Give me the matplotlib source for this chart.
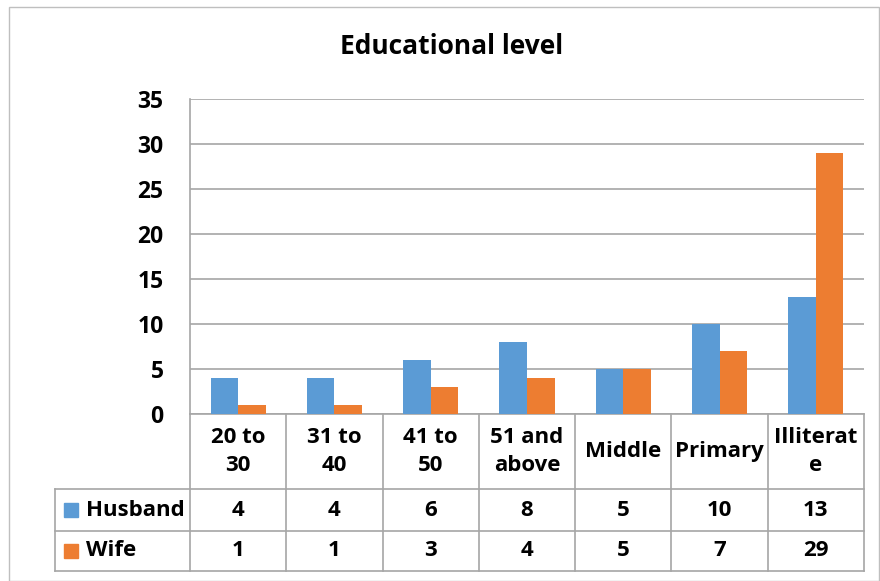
import numpy as np
import matplotlib
matplotlib.use('Agg')
import matplotlib.pyplot as plt
from matplotlib import transforms
from matplotlib.patches import Rectangle

plt.rcParams['font.family'] = ['Open Sans', 'DejaVu Sans']
plt.rcParams['font.weight'] = 'bold'

categories = ['20 to\n30', '31 to\n40', '41 to\n50', '51 and\nabove', 'Middle', 'Primary', 'Illiterat\ne']
series_names = ['Husband', 'Wife']
husband = [4, 4, 6, 8, 5, 10, 13]
wife = [1, 1, 3, 4, 5, 7, 29]
colors = ['#5B9BD5', '#ED7D31']

W, H = 880, 581
grid_col = '#A6A6A6'
fs = 16.5
fs_tab = 16


def fy(py):
    # pixel row -> figure fraction
    return 1 - py / H


fig = plt.figure(figsize=(W / 100, H / 100), dpi=100)
fig.patches.append(Rectangle((9 / W, 0), (W - 10) / W, fy(7), transform=fig.transFigure,
                             fill=False, edgecolor='#BFBFBF', lw=1))

ax = fig.add_axes([190 / W, fy(414), (864 - 190) / W, (414 - 99) / H])
x = np.arange(len(categories))
bw = 0.287
ax.bar(x - bw / 2, husband, bw, color=colors[0], zorder=3)
ax.bar(x + bw / 2, wife, bw, color=colors[1], zorder=3)

ax.set_xlim(-0.5, len(categories) - 0.5)
ax.set_ylim(0, 35)
ax.set_yticks(np.arange(0, 36, 5))
ax.set_xticks([])
ax.tick_params(axis='y', length=0, pad=19, labelsize=fs)
for lab in ax.get_yticklabels():
    lab.set_fontweight('bold')
ax.grid(axis='y', color=grid_col, lw=1.2, zorder=0)
for s in ['top', 'right', 'bottom']:
    ax.spines[s].set_visible(False)
ax.spines['left'].set_color(grid_col)
ax.spines['left'].set_linewidth(1.2)

fig.text(452 / W, fy(47), 'Educational level', ha='center', va='center', fontsize=19, fontweight='bold')

# data table under the axis
tr = transforms.blended_transform_factory(ax.transData, fig.transFigure)
rows = [414, 489, 531, 571]
left = -0.5 - (190 - 55) / ((864 - 190) / len(categories))
right = len(categories) - 0.5
ax.plot([-0.5, right], [fy(rows[0])] * 2, transform=tr, color=grid_col, lw=1.2, clip_on=False)
for r in rows[1:]:
    ax.plot([left, right], [fy(r)] * 2, transform=tr, color=grid_col, lw=1.2, clip_on=False)
for b in np.arange(-0.5, right + 0.01, 1):
    ax.plot([b, b], [fy(rows[0]), fy(rows[-1])], transform=tr, color=grid_col, lw=1.2, clip_on=False)
ax.plot([left, left], [fy(rows[1]), fy(rows[-1])], transform=tr, color=grid_col, lw=1.2, clip_on=False)

for i, c in enumerate(categories):
    ax.text(i, fy((rows[0] + rows[1]) / 2), c, transform=tr, ha='center', va='center',
            fontsize=fs_tab, fontweight='bold', linespacing=1.45)

unit = (864 - 190) / len(categories)
for k, (name, vals) in enumerate(zip(series_names, [husband, wife])):
    yc = fy((rows[k + 1] + rows[k + 2]) / 2)
    ax.plot([left + 16 / unit], [yc], transform=tr, marker='s', ms=10.5, color=colors[k],
            clip_on=False, lw=0)
    ax.text(left + 31 / unit, yc, name, transform=tr, ha='left', va='center',
            fontsize=fs_tab, fontweight='bold')
    for i, v in enumerate(vals):
        ax.text(i, yc, str(v), transform=tr, ha='center', va='center', fontsize=fs_tab, fontweight='bold')

fig.savefig('out.png', dpi=100)
